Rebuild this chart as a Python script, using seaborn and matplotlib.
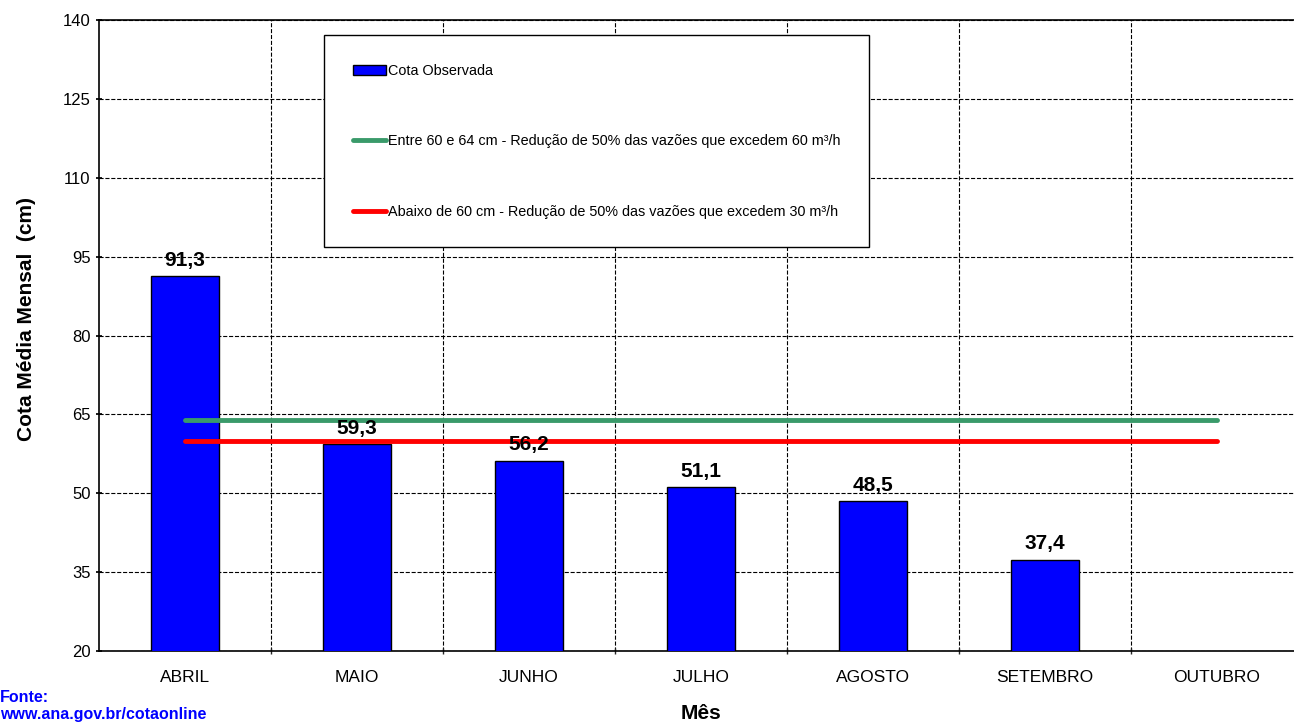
import matplotlib
matplotlib.use("Agg")
import matplotlib.pyplot as plt
import seaborn as sns
import pandas as pd

meses = ["ABRIL", "MAIO", "JUNHO", "JULHO", "AGOSTO", "SETEMBRO", "OUTUBRO"]
cota = [91.3, 59.3, 56.2, 51.1, 48.5, 37.4, None]
limite_64 = [64, 64, 64, 64, 64, 64, 64]
limite_60 = [60, 60, 60, 60, 60, 60, 60]
rotulos = ["91,3", "59,3", "56,2", "51,1", "48,5", "37,4", ""]

sns.set_theme(style="white")
plt.rcParams["font.family"] = ["Liberation Sans", "DejaVu Sans"]
plt.rcParams["text.color"] = "black"
plt.rcParams["axes.labelcolor"] = "black"

df = pd.DataFrame({"mes": meses, "cota": cota, "l64": limite_64, "l60": limite_60})

fig = plt.figure(figsize=(12.94, 7.23), dpi=100)
ax = fig.add_axes([99 / 1294, 1 - 651 / 723, (1303 - 99) / 1294, (651 - 20) / 723])

sns.barplot(data=df, x="mes", y="cota", color="#0000ff", edgecolor="black",
            linewidth=1, width=0.4, saturation=1, ax=ax, label="Cota Observada", zorder=3)
sns.lineplot(data=df, x="mes", y="l64", color="#3a9a6a", linewidth=3.5, ax=ax,
             label="Entre 60 e 64 cm - Redução de 50% das vazões que excedem 60 m³/h", zorder=4)
sns.lineplot(data=df, x="mes", y="l60", color="#ff0000", linewidth=3.5, ax=ax,
             label="Abaixo de 60 cm - Redução de 50% das vazões que excedem 30 m³/h", zorder=4)

for i, (v, t) in enumerate(zip(cota, rotulos)):
    if v is not None:
        ax.text(i, v + 1.2, t, ha="center", va="bottom", fontsize=15, fontweight="bold",
                color="black", zorder=5)

ax.set_ylim(20, 140)
ax.set_yticks(range(20, 141, 15))
ax.set_xlim(-0.5, 6.5)
ax.set_xticks(range(7))
ax.set_xticklabels(meses)
ax.set_xticks([x + 0.5 for x in range(6)], minor=True)
ax.grid(False)
ax.yaxis.grid(True, which="major", linestyle="--", color="black", linewidth=0.8, zorder=0)
ax.xaxis.grid(True, which="minor", linestyle="--", color="black", linewidth=0.8, zorder=0)
ax.set_axisbelow(True)
ax.tick_params(axis="y", which="both", labelsize=12, colors="black", length=5,
               direction="inout", left=True)
ax.tick_params(axis="x", which="minor", length=5, direction="inout", bottom=True)
ax.tick_params(axis="x", which="major", length=0, pad=14, labelsize=12.5, colors="black")
for s in ax.spines.values():
    s.set_color("black")
    s.set_linewidth(1.2)

ax.set_ylabel("Cota Média Mensal  (cm)", fontsize=15, fontweight="bold")
ax.yaxis.set_label_coords(-0.052, 0.526)
ax.set_xlabel("Mês", fontsize=15, fontweight="bold")
ax.xaxis.set_label_coords(0.5, -0.084)

handles, labels = ax.get_legend_handles_labels()
ordem = [labels.index("Cota Observada")] + [i for i, l in enumerate(labels) if l != "Cota Observada"]
leg = ax.legend([handles[i] for i in ordem], [labels[i] for i in ordem],
                loc="upper left", bbox_to_anchor=(324 / 1294, 1 - 35 / 723),
                bbox_transform=fig.transFigure, fontsize=10.4, frameon=True, fancybox=False,
                edgecolor="black", framealpha=1, labelspacing=3.9, borderpad=2.0,
                handlelength=2.3, handletextpad=0.1, borderaxespad=0)
leg.get_frame().set_linewidth(1.0)
leg.set_zorder(6)

fig.text(0.0, 1 - 698 / 723, "Fonte:", color="#0000ff", fontsize=11.5, fontweight="bold",
         ha="left", va="center")
fig.text(0.0, 1 - 714 / 723, "www.ana.gov.br/cotaonline", color="#0000ff", fontsize=11.5,
         fontweight="bold", ha="left", va="center")

fig.savefig("out.png", dpi=100)
